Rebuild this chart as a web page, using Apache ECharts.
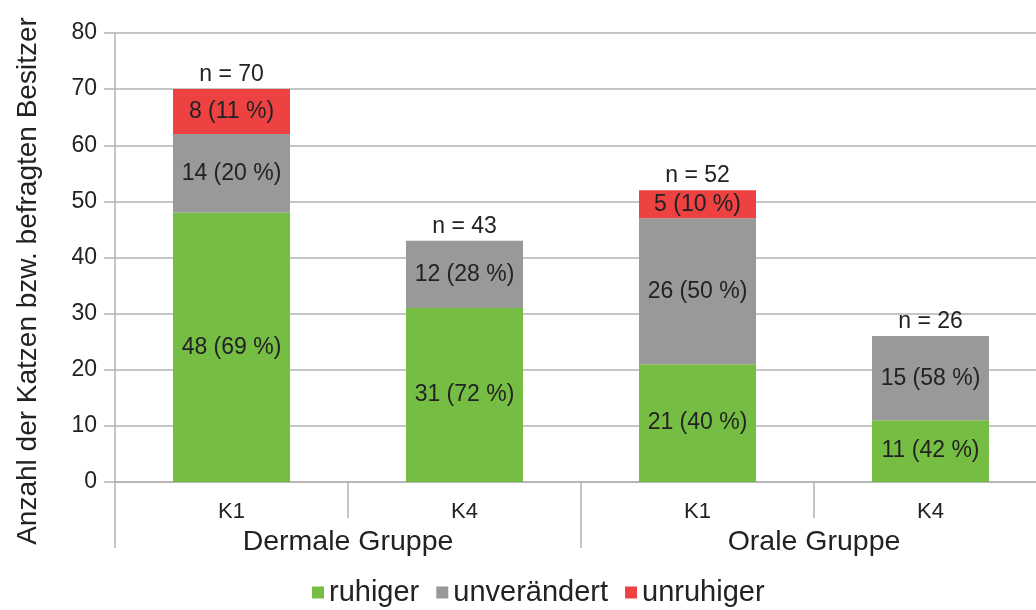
<!DOCTYPE html>
<html>
<head>
<meta charset="utf-8">
<script src="https://cdn.jsdelivr.net/npm/echarts@6/dist/echarts.min.js"></script>
<style>
  html, body { margin: 0; padding: 0; background: #fff; }
  #chart { width: 1036px; height: 610px; }
</style>
</head>
<body>
<div id="chart"></div>
<script>
// Categories (time point within each group) and the two treatment groups
const categories = ['K1', 'K4', 'K1', 'K4'];
const groups = ['Dermale Gruppe', 'Orale Gruppe'];

// Counts per behaviour rating
const ruhiger = [48, 31, 21, 11];
const unveraendert = [14, 12, 26, 15];
const unruhiger = [8, 0, 5, 0];

// Percentages shown next to the counts
const pctRuhiger = [69, 72, 40, 42];
const pctUnveraendert = [20, 28, 50, 58];
const pctUnruhiger = [11, 0, 10, 0];

const yTicks = [0, 10, 20, 30, 40, 50, 60, 70, 80];

const totals = categories.map((_, i) => ruhiger[i] + unveraendert[i] + unruhiger[i]);

const FONT = 'Liberation Sans, Arial, sans-serif';
const TEXT = '#222222';
const GRID = '#b3b3b3';

function segLabel(pcts) {
  return {
    show: true,
    position: 'inside',
    fontFamily: FONT,
    fontSize: 23,
    color: TEXT,
    formatter: p => p.value ? p.value + ' (' + pcts[p.dataIndex] + ' %)' : ''
  };
}

const chart = echarts.init(document.getElementById('chart'), null, { renderer: 'canvas' });

chart.setOption({
  animation: false,
  backgroundColor: '#ffffff',
  textStyle: { fontFamily: FONT },
  // the plot runs slightly past the right edge of the canvas
  grid: { left: 115, top: 33, width: 932, height: 449, outerBoundsMode: 'none', containLabel: false },
  legend: {
    bottom: -2,
    left: 307,
    data: ['ruhiger', 'unverändert', 'unruhiger'],
    icon: 'rect',
    itemWidth: 12,
    itemHeight: 12,
    itemGap: 17,
    textStyle: { fontFamily: FONT, fontSize: 29, color: TEXT, padding: [0, 0, 0, 0] }
  },
  graphic: [{
    type: 'text',
    x: 28,
    y: 281,
    rotation: Math.PI / 2,
    style: {
      text: 'Anzahl der Katzen bzw. befragten Besitzer',
      fontFamily: FONT,
      fontSize: 28,
      fill: TEXT,
      align: 'center',
      verticalAlign: 'middle'
    }
  }],
  xAxis: [{
    type: 'category',
    data: categories,
    position: 'bottom',
    axisLine: { show: true, lineStyle: { color: GRID, width: 1.5 } },
    axisTick: { show: true, length: 36, lineStyle: { color: GRID, width: 1.5 } },
    axisLabel: { fontFamily: FONT, fontSize: 22, color: TEXT, margin: 19 }
  }, {
    type: 'category',
    data: groups,
    position: 'bottom',
    axisLine: { show: false },
    axisTick: { show: true, length: 66, lineStyle: { color: GRID, width: 1.5 } },
    axisLabel: { fontFamily: FONT, fontSize: 28.5, color: TEXT, margin: 46 }
  }],
  yAxis: {
    type: 'value',
    min: yTicks[0],
    max: yTicks[yTicks.length - 1],
    interval: 10,
    axisLine: { show: true, lineStyle: { color: GRID, width: 1.5 } },
    axisTick: { show: true, length: 11, lineStyle: { color: GRID, width: 1.5 } },
    axisLabel: { fontFamily: FONT, fontSize: 23, color: TEXT, margin: 18 },
    splitLine: { show: true, lineStyle: { color: GRID, width: 1.5 } }
  },
  series: [{
    name: 'ruhiger',
    type: 'bar',
    stack: 'total',
    barWidth: 117,
    data: ruhiger,
    itemStyle: { color: '#76bd43' },
    label: segLabel(pctRuhiger)
  }, {
    name: 'unverändert',
    type: 'bar',
    stack: 'total',
    barWidth: 117,
    data: unveraendert,
    itemStyle: { color: '#999999' },
    label: segLabel(pctUnveraendert)
  }, {
    name: 'unruhiger',
    type: 'bar',
    stack: 'total',
    barWidth: 117,
    data: unruhiger,
    itemStyle: { color: '#ee4242' },
    label: segLabel(pctUnruhiger)
  }, {
    name: 'n',
    type: 'scatter',
    data: totals,
    symbolSize: 0,
    itemStyle: { color: TEXT, opacity: 1 },
    silent: true,
    label: {
      show: true,
      position: 'top',
      distance: 3,
      fontFamily: FONT,
      fontSize: 23,
      color: TEXT,
      formatter: p => 'n = ' + p.value
    }
  }]
});
</script>
</body>
</html>
